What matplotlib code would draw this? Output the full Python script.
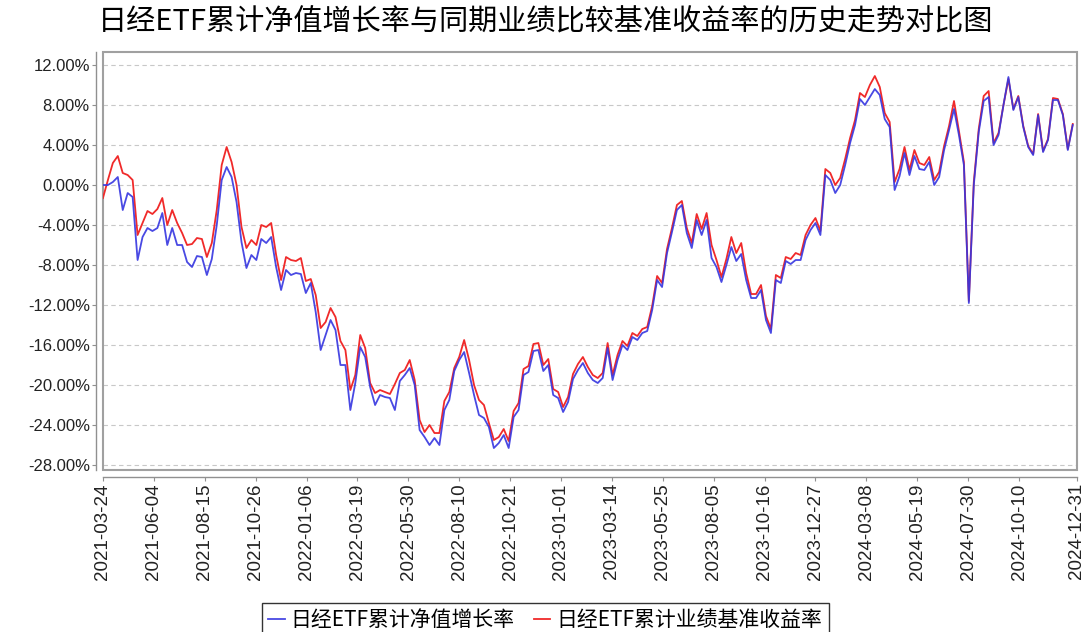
import numpy as np
import pandas as pd
import matplotlib
matplotlib.use('Agg')
import matplotlib.pyplot as plt
from matplotlib.patches import Rectangle
from matplotlib.ticker import FuncFormatter

plt.rcParams['font.family'] = ['Liberation Sans', 'Noto Sans CJK SC', 'DejaVu Sans']

# weekly samples (%), starting 2021-03-24
start = '2021-03-24'
end = '2024-12-31'

nav_growth = [
    0.0, 0.0, 0.3, 0.8, -2.5, -0.8, -1.2, -7.5, -5.2, -4.3,
    -4.6, -4.3, -2.8, -6.0, -4.3, -6.0, -6.0, -7.7, -8.2, -7.1,
    -7.2, -9.0, -7.4, -4.0, 0.5, 1.8, 0.8, -1.7, -5.7, -8.3,
    -7.0, -7.5, -5.4, -5.8, -5.2, -8.2, -10.5, -8.5, -9.0, -8.8,
    -8.9, -10.8, -9.8, -12.7, -16.5, -15.0, -13.5, -14.5, -18.0, -18.0,
    -22.5, -19.8, -16.2, -17.2, -20.2, -22.0, -21.0, -21.2, -21.3, -22.5,
    -19.6, -19.0, -18.3, -20.0, -24.5, -25.2, -26.0, -25.3, -26.0, -22.5,
    -21.5, -18.6, -17.5, -16.7, -18.8, -21.0, -23.0, -23.3, -24.2, -26.3,
    -25.8, -25.0, -26.3, -23.2, -22.5, -19.0, -18.7, -16.6, -16.5, -18.6,
    -18.0, -21.0, -21.3, -22.7, -21.7, -19.4, -18.5, -17.8, -18.8, -19.5,
    -19.8, -19.3, -16.3, -19.5, -17.5, -16.0, -16.5, -15.2, -15.5, -14.8,
    -14.6, -12.5, -9.5, -10.2, -6.8, -4.7, -2.5, -2.0, -4.8, -6.3,
    -3.5, -5.0, -3.5, -7.3, -8.2, -9.7, -8.0, -6.2, -7.6, -6.9,
    -9.5, -11.3, -11.3, -10.5, -13.5, -14.8, -9.5, -9.8, -7.6, -7.9,
    -7.5, -7.5, -5.5, -4.5, -3.8, -5.0, 1.0, 0.5, -0.8, 0.0,
    2.0, 4.2, 6.0, 8.6, 8.0, 8.8, 9.6, 9.0, 6.6, 5.8,
    -0.5, 0.9, 3.2, 1.0, 2.9, 1.6, 1.5, 2.3, 0.0, 0.8,
    3.5, 5.5, 7.6, 5.0, 2.0, -11.8, 0.0, 5.3, 8.4, 8.8,
    4.0, 5.0, 8.0, 10.8, 7.5, 8.8, 5.8, 3.8, 3.0, 7.0,
    3.3, 4.5, 8.5, 8.5, 7.0, 3.5, 6.0,
]

benchmark = [
    -1.3, 0.5, 2.2, 2.9, 1.2, 1.0, 0.5, -5.0, -3.8, -2.6,
    -2.9, -2.4, -1.3, -4.0, -2.5, -3.8, -4.8, -6.0, -5.9, -5.3,
    -5.4, -7.2, -5.8, -2.5, 2.0, 3.8, 2.3, 0.0, -4.2, -6.3,
    -5.5, -6.0, -4.0, -4.2, -3.8, -7.0, -9.5, -7.2, -7.5, -7.6,
    -7.3, -9.6, -9.4, -11.0, -14.3, -13.7, -12.3, -13.2, -15.6, -16.5,
    -20.5, -19.0, -15.0, -16.3, -19.8, -20.8, -20.5, -20.7, -20.9, -19.9,
    -18.8, -18.5, -17.5, -19.5, -23.5, -24.7, -24.0, -24.8, -24.8, -21.6,
    -20.7, -18.3, -17.2, -15.5, -17.5, -20.0, -21.5, -22.0, -23.8, -25.5,
    -25.2, -24.4, -25.6, -22.6, -21.8, -18.4, -18.1, -15.9, -15.8, -18.0,
    -17.4, -20.4, -20.7, -22.2, -21.2, -18.9, -17.9, -17.2, -18.2, -19.0,
    -19.3, -18.8, -15.8, -19.0, -17.0, -15.6, -16.1, -14.8, -15.1, -14.4,
    -14.2, -12.1, -9.1, -9.8, -6.4, -4.3, -2.0, -1.6, -4.3, -5.8,
    -2.9, -4.4, -2.8, -6.0, -7.5, -9.2, -7.4, -5.2, -6.8, -5.8,
    -8.8, -10.9, -10.9, -10.0, -13.1, -14.4, -9.0, -9.3, -7.2, -7.4,
    -6.8, -7.0, -5.0, -4.0, -3.3, -4.6, 1.6, 1.2, 0.0, 0.7,
    2.6, 4.7, 6.5, 9.2, 8.8, 10.0, 10.9, 9.8, 7.2, 6.3,
    0.3, 1.6, 3.8, 1.5, 3.5, 2.2, 2.0, 2.8, 0.5, 1.3,
    3.9, 5.9, 8.4, 5.4, 2.3, -11.6, 0.3, 5.6, 8.9, 9.4,
    4.2, 5.2, 8.0, 10.6, 7.6, 8.9, 5.9, 3.9, 3.1, 7.1,
    3.4, 4.6, 8.7, 8.6, 7.1, 3.6, 6.1,
]

tick_labels = [
    '2021-03-24', '2021-06-04', '2021-08-15', '2021-10-26', '2022-01-06',
    '2022-03-19', '2022-05-30', '2022-08-10', '2022-10-21', '2023-01-01',
    '2023-03-14', '2023-05-25', '2023-08-05', '2023-10-16', '2023-12-27',
    '2024-03-08', '2024-05-19', '2024-07-30', '2024-10-10', '2024-12-31',
]
y_ticks = [-28, -24, -20, -16, -12, -8, -4, 0, 4, 8, 12]

title = '日经ETF累计净值增长率与同期业绩比较基准收益率的历史走势对比图'
name_nav = '日经ETF累计净值增长率'
name_bm = '日经ETF累计业绩基准收益率'

dates = pd.date_range(start, periods=len(nav_growth), freq='7D')

fig = plt.figure(figsize=(10.86, 6.32), dpi=100)
ax = fig.add_axes([0.0948, 0.2563, 0.8969, 0.6614])

l_bm, = ax.plot(dates, benchmark, color='#f02a2a', lw=1.3)
l_nav, = ax.plot(dates, nav_growth, color='#3535e0', lw=1.3, alpha=0.9)

ax.set_xlim(pd.Timestamp(start), pd.Timestamp(end))
ax.set_ylim(-28.5, 13.3)

ax.set_yticks(y_ticks)
ax.yaxis.set_major_formatter(FuncFormatter(lambda v, p: '%.2f%%' % v))
ax.set_xticks([pd.Timestamp(t) for t in tick_labels])
ax.set_xticklabels(tick_labels)

ax.yaxis.grid(True, linestyle=(0, (4, 3)), color='#c8c8c8', lw=0.8)
ax.set_axisbelow(True)

for s in ['top', 'right']:
    ax.spines[s].set_visible(False)
ax.spines['left'].set_position(('outward', 5))
ax.spines['bottom'].set_position(('outward', 5))
for s in ['left', 'bottom']:
    ax.spines[s].set_color('#909090')
    ax.spines[s].set_linewidth(1.0)
ax.add_patch(Rectangle((0, 0), 1, 1, transform=ax.transAxes, fill=False,
                       ec='#a0a0a0', lw=1.5, clip_on=False))

ax.tick_params(axis='both', direction='out', length=3, color='#909090',
               labelcolor='#222222', pad=1.5)
ax.tick_params(axis='y', labelsize=12)
ax.tick_params(axis='x', labelsize=13.5, labelrotation=90)

fig.text(0.502, 0.965, title, ha='center', va='center', fontsize=21,
         family=['Noto Sans CJK SC', 'DejaVu Sans'])

leg = fig.legend([l_nav, l_bm], [name_nav, name_bm], loc='upper center',
                 bbox_to_anchor=(0.502, 0.062), ncol=2, frameon=True,
                 fancybox=False, edgecolor='black', handlelength=0.8,
                 handletextpad=0.3, columnspacing=0.9, borderpad=0.3,
                 prop={'family': ['Noto Sans CJK SC', 'DejaVu Sans'], 'size': 15})
leg.get_frame().set_linewidth(1.0)

fig.savefig('out.png', dpi=100)
